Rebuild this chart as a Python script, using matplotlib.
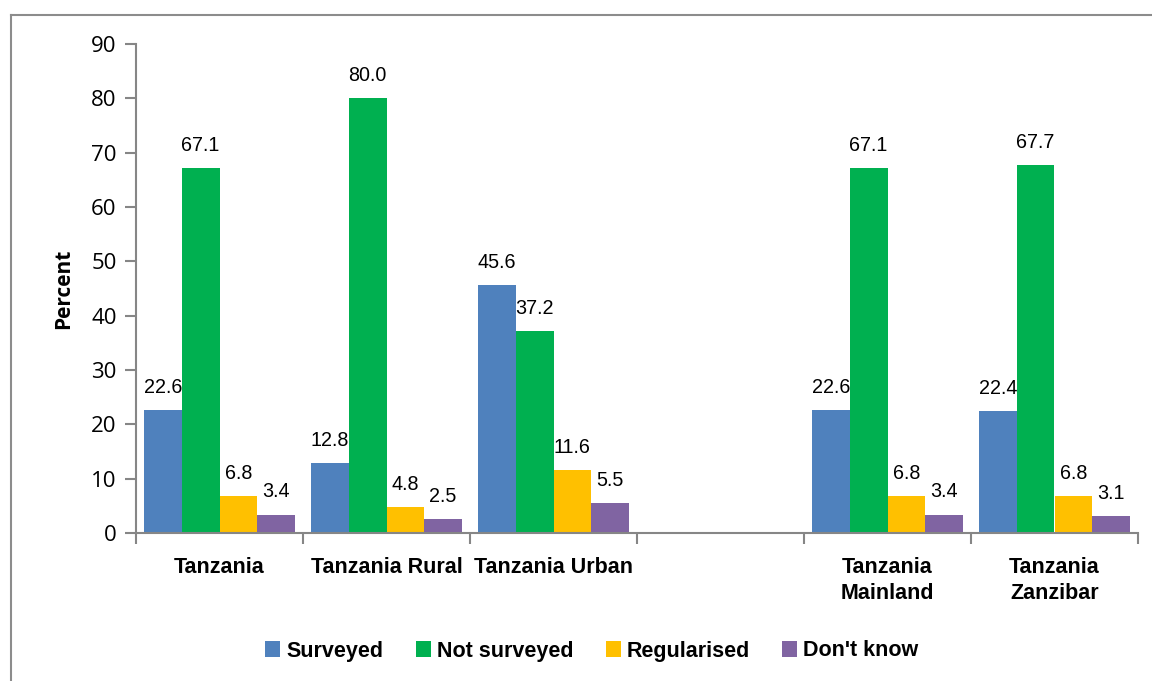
import matplotlib
matplotlib.use("Agg")
import matplotlib.pyplot as plt
from matplotlib.lines import Line2D
import numpy as np

categories = ["Tanzania", "Tanzania Rural", "Tanzania Urban", "", "Tanzania\nMainland", "Tanzania\nZanzibar"]
series_names = ["Surveyed", "Not surveyed", "Regularised", "Don't know"]
surveyed = [22.6, 12.8, 45.6, None, 22.6, 22.4]
not_surveyed = [67.1, 80.0, 37.2, None, 67.1, 67.7]
regularised = [6.8, 4.8, 11.6, None, 6.8, 6.8]
dont_know = [3.4, 2.5, 5.5, None, 3.4, 3.1]
colors = ["#4F81BD", "#00B050", "#FFC000", "#8064A2"]

ARIAL = ["Liberation Sans", "DejaVu Sans"]
REG = ["Open Sans", "Noto Sans", "DejaVu Sans"]
GRAY = "#868686"

fig = plt.figure(figsize=(11.52, 6.81), dpi=100)
ax = fig.add_axes([136/1152, 1-533/681, (1138-136)/1152, (533-44)/681])

x = np.arange(len(categories))
w = 0.226
all_series = [surveyed, not_surveyed, regularised, dont_know]
for i, vals in enumerate(all_series):
    pos = x + (i - 1.5) * w
    v = np.array([np.nan if a is None else a for a in vals], dtype=float)
    ax.bar(pos, np.nan_to_num(v), w, color=colors[i], label=series_names[i], zorder=2)
    for px, val in zip(pos, v):
        if np.isnan(val):
            continue
        ax.annotate("%.1f" % val, (px, val), xytext=(0, 9.5), textcoords="offset points",
                    ha="center", va="bottom", fontsize=14.2, family=ARIAL, zorder=3)

ax.set_xlim(-0.5, len(categories) - 0.5)
ax.set_ylim(0, 90)
ax.set_yticks(range(0, 91, 10))
ax.set_xticks(x)
ax.set_xticklabels(categories, family=ARIAL, fontweight="bold", fontsize=15.5, linespacing=1.35)
ax.set_xticks(np.arange(-0.5, len(categories)), minor=True)
ax.tick_params(axis="x", which="major", length=0, pad=17)
ax.tick_params(axis="x", which="minor", length=8, width=1.5, color=GRAY, direction="out")
ax.tick_params(axis="y", length=8, width=1.5, color=GRAY, direction="out", pad=6, labelsize=16)
for t in ax.get_yticklabels():
    t.set_family(REG)

for s in ["top", "right"]:
    ax.spines[s].set_visible(False)
for s in ["left", "bottom"]:
    ax.spines[s].set_color(GRAY)
    ax.spines[s].set_linewidth(1.5)

ax.set_ylabel("Percent", family=REG, fontweight="bold", fontsize=15, labelpad=12)

fig.legend(loc="center", bbox_to_anchor=(592/1152, 1-651/681), ncol=4, frameon=False,
           handlelength=0.7, handleheight=0.7, handletextpad=0.28, columnspacing=1.5,
           prop={"family": ARIAL, "weight": "bold", "size": 15.5})

# outer frame (only top and left are visible in the picture)
fig.add_artist(Line2D([11/1152, 1.0], [1-15/681, 1-15/681], color="#8c8c8c", lw=1.5, transform=fig.transFigure))
fig.add_artist(Line2D([11/1152, 11/1152], [1-15/681, 0.0], color="#8c8c8c", lw=1.5, transform=fig.transFigure))

fig.savefig("out.png", dpi=100)
